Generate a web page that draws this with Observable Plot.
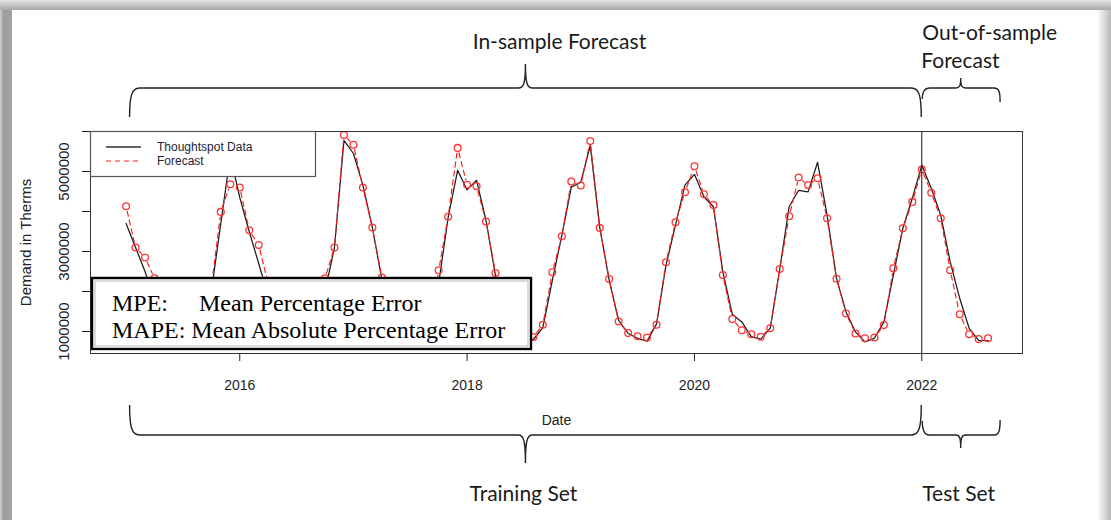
<!DOCTYPE html>
<html><head><meta charset="utf-8">
<script src="https://cdn.jsdelivr.net/npm/d3@7"></script>
<script src="https://cdn.jsdelivr.net/npm/@observablehq/plot@0.6"></script>
<style>
html,body{margin:0;padding:0;background:#fff;}
#chart{position:relative;width:1111px;height:520px;overflow:hidden;}
</style></head><body><div id="chart"></div>
<script>
// ---- data (monthly, starting Jan 2015), values in millions of therms ----
const startYear = 2015;
const actualM = [
 3.70, 3.10, 2.50, 1.80, 1.20, 0.90, 0.80, 0.80, 1.00, 2.00, 3.70, 5.40,
 4.35, 3.50, 2.70, 1.90, 1.20, 0.90, 0.80, 0.80, 1.00, 2.00, 3.10, 5.78,
 5.45, 4.66, 3.60, 2.30, 1.30, 0.95, 0.80, 0.80, 1.00, 2.20, 3.85, 5.03,
 4.54, 4.78, 3.77, 2.40, 1.40, 1.00, 0.85, 0.80, 1.10, 2.28, 3.40, 4.61,
 4.73, 5.65, 3.61, 2.28, 1.28, 0.95, 0.83, 0.76, 1.19, 2.66, 3.66, 4.66,
 4.93, 4.37, 4.12, 2.49, 1.43, 1.24, 0.87, 0.81, 1.08, 2.55, 4.12, 4.53,
 4.49, 5.23, 3.91, 2.33, 1.49, 0.99, 0.74, 0.83, 1.24, 2.41, 3.58, 4.33,
 5.16, 4.58, 3.91, 2.74, 1.83, 1.08, 0.78, 0.77];
const forecastM = [
 4.13, 3.10, 2.85, 2.33, 1.50, 1.00, 0.85, 0.80, 0.95, 2.10, 3.99, 4.68,
 4.60, 3.53, 3.16, 2.20, 1.40, 1.00, 0.85, 0.82, 1.05, 2.33, 3.10, 5.91,
 5.67, 4.60, 3.60, 2.35, 1.40, 1.00, 0.85, 0.80, 1.10, 2.53, 3.87, 5.59,
 4.67, 4.63, 3.75, 2.46, 1.40, 1.00, 0.85, 0.86, 1.17, 2.48, 3.38, 4.75,
 4.65, 5.76, 3.59, 2.31, 1.25, 0.96, 0.88, 0.85, 1.17, 2.73, 3.73, 4.48,
 5.13, 4.43, 4.16, 2.41, 1.31, 1.03, 0.93, 0.87, 1.08, 2.56, 3.88, 4.85,
 4.66, 4.83, 3.83, 2.32, 1.45, 0.95, 0.83, 0.85, 1.16, 2.58, 3.58, 4.24,
 5.05, 4.47, 3.83, 2.53, 1.43, 0.93, 0.81, 0.83];
const xTicks = [2016, 2018, 2020, 2022];
const yTicks = [1000000, 2000000, 3000000, 4000000, 5000000, 6000000];
const yTickLabels = [1000000, 3000000, 5000000];
const splitYear = 2022;
const legendLabels = ["Thoughtspot Data", "Forecast"];

// ---- tables ----
const actual = actualM.map((v, i) => ({t: startYear + i / 12, v: v * 1e6}));
const forecast = forecastM.map((v, i) => ({t: startYear + i / 12, v: v * 1e6}));

const W = 1111, H = 520;
const mL = 90, mR = 89, mT = 131, mB = 167;
const xDomain = [2014.687, 2022.886];
const yDomain = [450000, 6000000];

// type="b" style: red dashed segments with gaps around the points
const sx = (W - mL - mR) / (xDomain[1] - xDomain[0]);
const sy = (H - mT - mB) / (yDomain[1] - yDomain[0]);
const gap = 4.6;
const segs = [];
for (let i = 0; i < forecast.length - 1; i++) {
  const a = forecast[i], b = forecast[i + 1];
  const dx = (b.t - a.t) * sx, dy = (b.v - a.v) * sy;
  const L = Math.hypot(dx, dy);
  if (L <= 2 * gap + 1) continue;
  const f = gap / L;
  segs.push({
    x1: a.t + f * (b.t - a.t), y1: a.v + f * (b.v - a.v),
    x2: b.t - f * (b.t - a.t), y2: b.v - f * (b.v - a.v)
  });
}

const rFont = "'Liberation Sans', Arial, sans-serif";
const plot = Plot.plot({
  width: W, height: H,
  marginLeft: mL, marginRight: mR, marginTop: mT, marginBottom: mB,
  x: {domain: xDomain},
  y: {domain: yDomain},
  style: {fontFamily: rFont, background: "transparent", color: "#222", overflow: "visible"},
  marks: [
    Plot.axisX({ticks: xTicks, tickFormat: d => String(d), tickSize: 8, tickPadding: 19, fontSize: 14, label: null}),
    Plot.axisY({ticks: yTicks, tickFormat: () => "", tickSize: 8, label: null}),
    Plot.text(yTickLabels, {y: d => d, text: d => String(d), frameAnchor: "left", textAnchor: "middle", dx: -26, rotate: -90, fontSize: 15, fill: "#222"}),
    Plot.text(["Demand in Therms"], {frameAnchor: "left", textAnchor: "middle", dx: -64, rotate: -90, fontSize: 15, fill: "#222"}),
    Plot.text(["Date"], {frameAnchor: "bottom", dy: 71, fontSize: 14, fill: "#222"}),
    Plot.line(actual, {x: "t", y: "v", stroke: "#1c1c1c", strokeWidth: 1.25}),
    Plot.link(segs, {x1: "x1", y1: "y1", x2: "x2", y2: "y2", stroke: "#ff1a1a", strokeWidth: 1.15, strokeDasharray: "6,3"}),
    Plot.dot(forecast, {x: "t", y: "v", r: 3.4, stroke: "#ff3333", fill: "none", strokeWidth: 1.3}),
    Plot.ruleX([splitYear], {stroke: "#111", strokeWidth: 1}),
    Plot.frame({stroke: "#333", strokeWidth: 1})
  ]
});
document.getElementById("chart").appendChild(plot);

const svg = d3.select(plot);
const xs = plot.scale("x");
const X = v => xs.apply(v);

// legend box (top-left inside plot)
const lg = svg.append("g").attr("text-anchor", "start");
lg.append("rect").attr("x", 90.5).attr("y", 131.5).attr("width", 225).attr("height", 45)
  .attr("fill", "#fff").attr("stroke", "#555").attr("stroke-width", 1.2);
lg.append("line").attr("x1", 106).attr("x2", 141).attr("y1", 147).attr("y2", 147)
  .attr("stroke", "#333").attr("stroke-width", 1.3);
lg.append("line").attr("x1", 106).attr("x2", 141).attr("y1", 161).attr("y2", 161)
  .attr("stroke", "#ff2020").attr("stroke-width", 1.2).attr("stroke-dasharray", "5,4");
legendLabels.forEach((t, i) => {
  lg.append("text").attr("x", 157).attr("y", 147 + i * 14).attr("dy", "0.35em")
    .attr("font-family", rFont).attr("font-size", 12).attr("fill", "#23233a").text(t);
});

// MPE / MAPE text box
const bx = svg.append("g").attr("text-anchor", "start");
bx.append("rect").attr("x", 92).attr("y", 278).attr("width", 439).attr("height", 71)
  .attr("fill", "#fff").attr("stroke", "#000").attr("stroke-width", 2.4);
bx.append("rect").attr("x", 95).attr("y", 281).attr("width", 433).attr("height", 65)
  .attr("fill", "none").attr("stroke", "#888").attr("stroke-width", 0.6);
const serif = "'Liberation Serif', 'Times New Roman', serif";
const t1 = bx.append("text").attr("y", 310.5).attr("font-family", serif).attr("font-size", 24).attr("fill", "#000");
t1.append("tspan").attr("x", 112).text("MPE:");
t1.append("tspan").attr("x", 199).text("Mean Percentage Error");
bx.append("text").attr("x", 112).attr("y", 338).attr("font-family", serif).attr("font-size", 24)
  .attr("fill", "#000").text("MAPE: Mean Absolute Percentage Error");

// braces
const L = X(2015) + 4, M = (X(2015) + 4 + X(2022)) / 2, R = X(2022), R2 = X(2022.667) + 3, M2 = (R + R2) / 2;
const brace = svg.append("g").attr("fill", "none").attr("stroke", "#222").attr("stroke-width", 1.4);
// top
brace.append("path").attr("d",
  `M${L},117 C${L},96 ${L+2},88 ${L+10},88 H${M-7} C${M-2},88 ${M},84 ${M},64 C${M},84 ${M+2},88 ${M+7},88 H${R-10} C${R-2},88 ${R},96 ${R},117`);
brace.append("path").attr("d",
  `M${R+1},99 C${R+1},92 ${R+3},88 ${R+8},88 H${M2-5} C${M2-1},88 ${M2},86 ${M2},78 C${M2},86 ${M2+1},88 ${M2+5},88 H${R2-6} C${R2-1},88 ${R2},92 ${R2},102`);
// bottom
brace.append("path").attr("d",
  `M${L},405 C${L},427 ${L+2},435 ${L+10},435 H${M-7} C${M-2},435 ${M},440 ${M},463 C${M},440 ${M+2},435 ${M+7},435 H${R-10} C${R-2},435 ${R},427 ${R},405`);
brace.append("path").attr("d",
  `M${R+1},421 C${R+1},430 ${R+3},435 ${R+8},435 H${M2-5} C${M2-1},435 ${M2},438 ${M2},448 C${M2},438 ${M2+1},435 ${M2+5},435 H${R2-6} C${R2-1},435 ${R2},430 ${R2},420`);

// annotation texts
const sans = "Lato, 'Open Sans', sans-serif";
const ann = (x, y, t, anchor) => svg.append("text").attr("x", x).attr("y", y).attr("text-anchor", anchor)
  .attr("font-family", sans).attr("font-size", 21).attr("fill", "#1a1a1a").text(t);
ann(M + 34, 49, "In-sample Forecast", "middle");
ann(R + 1, 40, "Out-of-sample", "start");
ann(R, 68, "Forecast", "start");
ann(M - 2, 501, "Training Set", "middle");
ann(R + 1, 501, "Test Set", "start");

// picture frame shadow
const defs = svg.append("defs");
const gt = defs.append("linearGradient").attr("id", "gt").attr("x1", 0).attr("y1", 0).attr("x2", 0).attr("y2", 1);
gt.append("stop").attr("offset", "0").attr("stop-color", "#e4e4e4");
gt.append("stop").attr("offset", "1").attr("stop-color", "#a9a9a9");
const gl = defs.append("linearGradient").attr("id", "gl").attr("x1", 0).attr("y1", 0).attr("x2", 1).attr("y2", 0);
gl.append("stop").attr("offset", "0").attr("stop-color", "#d0d0d0");
gl.append("stop").attr("offset", "0.3").attr("stop-color", "#9c9c9c");
gl.append("stop").attr("offset", "1").attr("stop-color", "#a4a4a4");
const gr = defs.append("linearGradient").attr("id", "gr").attr("x1", 0).attr("y1", 0).attr("x2", 1).attr("y2", 0);
gr.append("stop").attr("offset", "0").attr("stop-color", "#ffffff");
gr.append("stop").attr("offset", "1").attr("stop-color", "#b8b8b8");
svg.append("rect").attr("x", 0).attr("y", 0).attr("width", W).attr("height", 10).attr("fill", "url(#gt)");
svg.append("rect").attr("x", 0).attr("y", 10).attr("width", 12).attr("height", H - 10).attr("fill", "url(#gl)");
svg.append("rect").attr("x", 1097).attr("y", 10).attr("width", 14).attr("height", H - 10).attr("fill", "url(#gr)");
</script></body></html>
